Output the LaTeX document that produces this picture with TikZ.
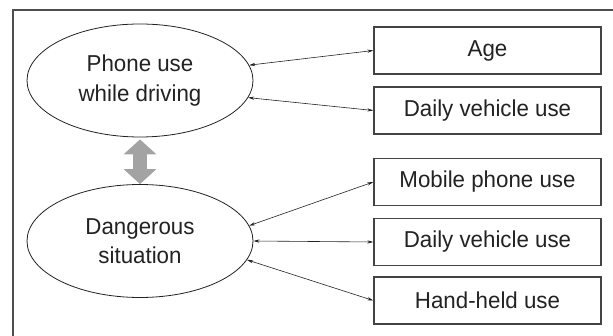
\documentclass[tikz,border=0pt]{standalone}
\usepackage{fontspec}
\setmainfont[FakeStretch=0.97]{Liberation Sans}
\usetikzlibrary{arrows.meta,shapes.geometric}
\definecolor{ink}{HTML}{222222}
\definecolor{fat}{HTML}{A3A3A3}
\tikzset{
  oval/.style={draw=ink, line width=0.8pt, ellipse, minimum width=226pt, minimum height=113pt, inner sep=0pt, align=center, font=\fontsize{23}{29.5}\selectfont, text=ink},
  box/.style={draw=ink!85, line width=1.3pt, rectangle, minimum width=227pt, minimum height=47pt, inner sep=0pt, font=\fontsize{23}{28}\selectfont, text=ink},
  link/.style={draw=ink, line width=0.6pt, {Stealth[length=6pt,width=3.2pt]}-{Stealth[length=6pt,width=3.2pt]}},
  fatlink/.style={draw=fat, line width=14pt, {Triangle[length=15pt,width=32pt]}-{Triangle[length=15pt,width=32pt]}}
}
\begin{document}
\begin{tikzpicture}[x=1pt,y=-1pt]
\useasboundingbox (0,0) rectangle (613,336);
\draw[ink!80, line width=1.4pt] (13,336) -- (13,10) -- (613,10);
\node[oval] (e1) at (140,80.5) {Phone use\\while driving};
\node[oval] (e2) at (140,241) {Dangerous\\situation};
\node[box] (b1) at (487.5,50.5) {Age};
\node[box] (b2) at (487.5,110.5) {Daily vehicle use};
\node[box] (b3) at (487.5,182) {Mobile phone use};
\node[box] (b4) at (487.5,242) {Daily vehicle use};
\node[box] (b5) at (487.5,300.5) {Hand-held use};
\draw[link] (e1.8.5) -- (b1.west);
\draw[link] (e1.-9) -- (b2.west);
\draw[link] (e2.8.8) -- (b3.west);
\draw[link] (e2.east) -- (b4.west);
\draw[link] (e2.-10.3) -- (b5.west);
\draw[fatlink, shorten <=2pt] (e1.south) -- (e2.north);
\end{tikzpicture}
\end{document}
